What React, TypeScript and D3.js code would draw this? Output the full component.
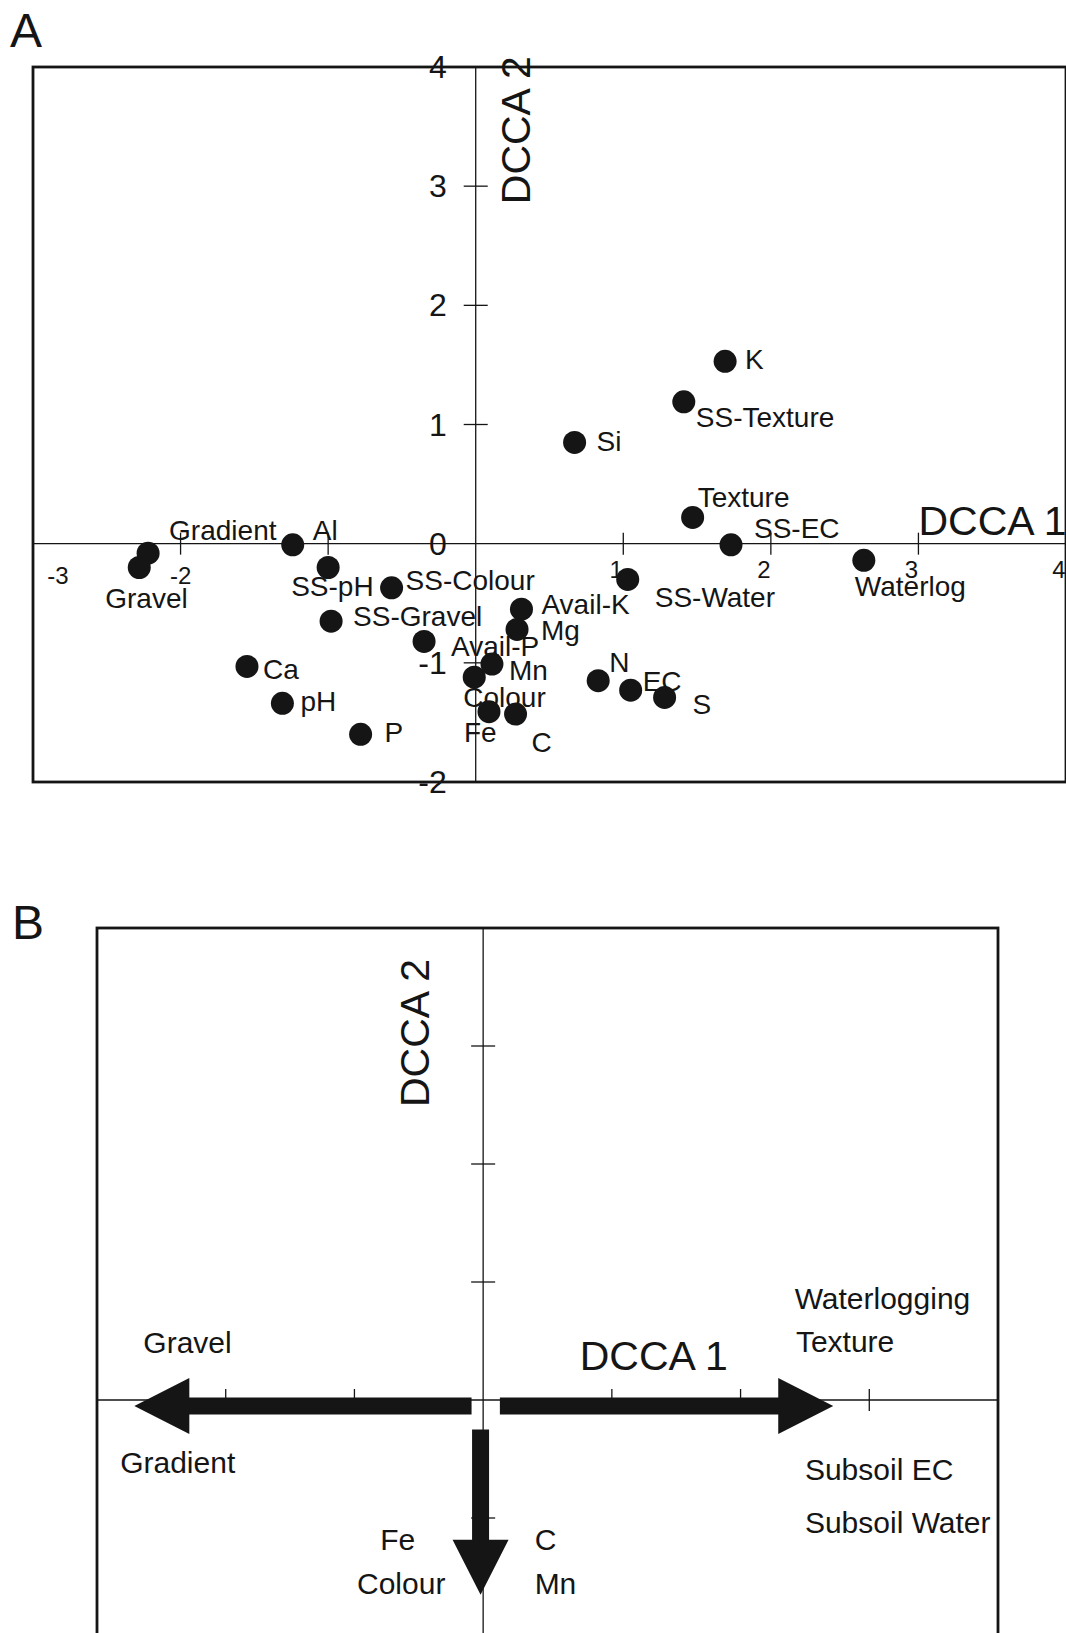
import React, { useEffect, useRef } from 'react';
import * as d3 from 'd3';

// Panel A - variable scores on DCCA axes 1 and 2
const varNames = ['K', 'SS-Texture', 'Si', 'Texture', 'SS-EC', 'Waterlog', 'SS-Water', 'Avail-K', 'Mg', 'N', 'EC', 'S', 'C', 'Fe', 'Colour', 'Mn', 'Avail-P', 'P', 'pH', 'Ca', 'SS-Gravel', 'SS-Colour', 'SS-pH', 'Al', 'Gradient', 'Gravel'];
const dcca1 = [1.69, 1.41, 0.67, 1.47, 1.73, 2.63, 1.03, 0.31, 0.28, 0.83, 1.05, 1.28, 0.27, 0.09, -0.01, 0.11, -0.35, -0.78, -1.31, -1.55, -0.98, -0.57, -1.0, -1.24, -2.22, -2.28];
const dcca2 = [1.53, 1.19, 0.85, 0.22, -0.01, -0.14, -0.3, -0.55, -0.72, -1.15, -1.23, -1.29, -1.43, -1.41, -1.12, -1.01, -0.82, -1.6, -1.34, -1.03, -0.65, -0.37, -0.2, -0.01, -0.08, -0.2];

const xTickMarks = [-2, -1, 1, 2, 3];
const yTickMarks = [-1, 1, 2, 3];
const xTickLabelsA = [-3, -2, 1, 2, 3, 4];
const yTickLabelsA = [4, 3, 2, 1, 0, -1, -2];

// Panel B - arrows for the main gradients
const arrowNames = ['Gravel / Gradient', 'Waterlogging / Texture', 'Fe / C'];
const arrowX0 = [-0.09, 0.13, -0.02];
const arrowY0 = [-0.05, -0.05, -0.25];
const arrowX1 = [-2.71, 2.72, -0.02];
const arrowY1 = [-0.05, -0.05, -1.65];

const bLabels = ['Gravel', 'Gradient', 'Fe', 'Colour', 'C', 'Mn', 'Waterlogging', 'Texture', 'Subsoil EC', 'Subsoil Water'];
const bLabelX = [-2.64, -2.82, -0.8, -0.98, 0.4, 0.4, 2.42, 2.43, 2.5, 2.5];
const bLabelY = [0.4, -0.62, -1.27, -1.64, -1.27, -1.64, 0.77, 0.41, -0.68, -1.13];

// label placement for panel A (pixel offsets from the dot)
const labelOffset = {
  K: [20, 8], 'SS-Texture': [12, 25], Si: [22, 9], Texture: [5, -10], 'SS-EC': [23, -7],
  Waterlog: [-9, 36], 'SS-Water': [27, 28], 'Avail-K': [20, 5], Mg: [24, 11], N: [11, -9],
  EC: [12, 1], S: [28, 17], C: [16, 38], Fe: [-25, 30], Colour: [-11, 30], Mn: [17, 16],
  'Avail-P': [27, 15], P: [24, 8], pH: [18, 8], Ca: [16, 13], 'SS-Gravel': [22, 5],
  'SS-Colour': [14, 2], 'SS-pH': [-37, 28], Al: [20, -5], Gradient: [21, -13], Gravel: [-34, 40],
};

const W = 1066;
const H = 1633;
const font = '"Liberation Sans", Arial, Helvetica, sans-serif';
const ink = '#151515';

const App = () => {
  const svgRef = useRef(null);

  useEffect(() => {
    const svg = d3.select(svgRef.current);
    svg.selectAll('*').remove();
    svg.attr('width', W).attr('height', H).style('font-family', font);
    svg.append('rect').attr('width', W).attr('height', H).attr('fill', '#fff');

    // ---------- Panel A ----------
    const xA = d3.scaleLinear().domain([-3, 4]).range([33, 1066]);
    const yA = d3.scaleLinear().domain([-2, 4]).range([782, 67]);
    const a = svg.append('g');

    a.append('text').attr('x', 10).attr('y', 47).attr('font-size', 48).attr('fill', ink).text('A');

    a.append('rect')
      .attr('x', xA(-3)).attr('y', yA(4))
      .attr('width', xA(4) - xA(-3)).attr('height', yA(-2) - yA(4))
      .attr('fill', 'none').attr('stroke', ink).attr('stroke-width', 2.8);

    // axes through the origin
    a.append('line')
      .attr('x1', xA(-3)).attr('x2', xA(4)).attr('y1', yA(0)).attr('y2', yA(0))
      .attr('stroke', ink).attr('stroke-width', 1.3);
    a.append('line')
      .attr('x1', xA(0)).attr('x2', xA(0)).attr('y1', yA(4)).attr('y2', yA(-2))
      .attr('stroke', ink).attr('stroke-width', 1.3);

    xTickMarks.forEach((v) => {
      a.append('line')
        .attr('x1', xA(v)).attr('x2', xA(v)).attr('y1', yA(0) - 11).attr('y2', yA(0) + 11)
        .attr('stroke', ink).attr('stroke-width', 1.3);
    });
    yTickMarks.forEach((v) => {
      a.append('line')
        .attr('x1', xA(0) - 12).attr('x2', xA(0) + 12).attr('y1', yA(v)).attr('y2', yA(v))
        .attr('stroke', ink).attr('stroke-width', 1.3);
    });

    // tick labels
    yTickLabelsA.forEach((v) => {
      a.append('text')
        .attr('x', xA(0) - 29).attr('y', yA(v) + 11)
        .attr('text-anchor', 'end').attr('font-size', 32).attr('fill', ink)
        .text(v);
    });
    xTickLabelsA.forEach((v) => {
      a.append('text')
        .attr('x', Math.max(xA(v) - (v > 0 ? 7 : 0), xA(-3) + 25))
        .attr('y', yA(0) + (v > 0 ? 34 : 40))
        .attr('text-anchor', 'middle').attr('font-size', 24).attr('fill', ink)
        .text(v);
    });

    // axis titles
    a.append('text')
      .attr('x', xA(3)).attr('y', yA(0) - 9)
      .attr('font-size', 41).attr('fill', ink).text('DCCA 1');
    a.append('text')
      .attr('transform', `translate(${xA(0) + 54}, ${yA(3.47)}) rotate(-90)`)
      .attr('text-anchor', 'middle').attr('font-size', 41).attr('fill', ink).text('DCCA 2');

    // labels then dots
    varNames.forEach((name, i) => {
      const [dx, dy] = labelOffset[name];
      a.append('text')
        .attr('x', xA(dcca1[i]) + dx).attr('y', yA(dcca2[i]) + dy)
        .attr('font-size', 28).attr('fill', ink).text(name);
    });
    a.selectAll('circle.site')
      .data(varNames)
      .enter()
      .append('circle')
      .attr('class', 'site')
      .attr('cx', (_, i) => xA(dcca1[i]))
      .attr('cy', (_, i) => yA(dcca2[i]))
      .attr('r', 11.5)
      .attr('fill', ink);

    // ---------- Panel B ----------
    const xB = d3.scaleLinear().domain([-3, 4]).range([97, 998]);
    const yB = d3.scaleLinear().domain([-2, 4]).range([1636, 928]);
    const b = svg.append('g');

    b.append('text').attr('x', 12).attr('y', 939).attr('font-size', 48).attr('fill', ink).text('B');

    b.append('rect')
      .attr('x', xB(-3)).attr('y', yB(4))
      .attr('width', xB(4) - xB(-3)).attr('height', yB(-2) - yB(4))
      .attr('fill', 'none').attr('stroke', ink).attr('stroke-width', 2.8);

    b.append('line')
      .attr('x1', xB(-3)).attr('x2', xB(4)).attr('y1', yB(0)).attr('y2', yB(0))
      .attr('stroke', ink).attr('stroke-width', 1.3);
    b.append('line')
      .attr('x1', xB(0)).attr('x2', xB(0)).attr('y1', yB(4)).attr('y2', yB(-2))
      .attr('stroke', ink).attr('stroke-width', 1.3);

    xTickMarks.forEach((v) => {
      b.append('line')
        .attr('x1', xB(v)).attr('x2', xB(v)).attr('y1', yB(0) - 11).attr('y2', yB(0) + 11)
        .attr('stroke', ink).attr('stroke-width', 1.3);
    });
    yTickMarks.forEach((v) => {
      b.append('line')
        .attr('x1', xB(0) - 12).attr('x2', xB(0) + 12).attr('y1', yB(v)).attr('y2', yB(v))
        .attr('stroke', ink).attr('stroke-width', 1.3);
    });

    // fat arrows
    const shaft = 8.5;
    const headHalf = 28;
    const headLen = 55;
    arrowNames.forEach((_, i) => {
      const x0 = xB(arrowX0[i]);
      const y0 = yB(arrowY0[i]);
      const x1 = xB(arrowX1[i]);
      const y1 = yB(arrowY1[i]);
      const len = Math.hypot(x1 - x0, y1 - y0);
      const ux = (x1 - x0) / len;
      const uy = (y1 - y0) / len;
      const px = -uy;
      const py = ux;
      const bx = x1 - ux * headLen;
      const by = y1 - uy * headLen;
      const pts = [
        [x0 + px * shaft, y0 + py * shaft],
        [bx + px * shaft, by + py * shaft],
        [bx + px * headHalf, by + py * headHalf],
        [x1, y1],
        [bx - px * headHalf, by - py * headHalf],
        [bx - px * shaft, by - py * shaft],
        [x0 - px * shaft, y0 - py * shaft],
      ];
      b.append('path')
        .attr('d', d3.line()(pts) + 'Z')
        .attr('fill', ink);
    });

    b.append('text')
      .attr('x', xB(0.75)).attr('y', yB(0.254))
      .attr('font-size', 41).attr('fill', ink).text('DCCA 1');
    b.append('text')
      .attr('transform', `translate(${xB(0) - 54}, ${yB(3.11)}) rotate(-90)`)
      .attr('text-anchor', 'middle').attr('font-size', 41).attr('fill', ink).text('DCCA 2');

    bLabels.forEach((t, i) => {
      b.append('text')
        .attr('x', xB(bLabelX[i])).attr('y', yB(bLabelY[i]))
        .attr('font-size', 30).attr('fill', ink).text(t);
    });
  }, []);

  return (
    <>
      <style>{'body{margin:0}'}</style>
      <svg ref={svgRef} style={{ display: 'block' }}></svg>
    </>
  );
};

export default App;
